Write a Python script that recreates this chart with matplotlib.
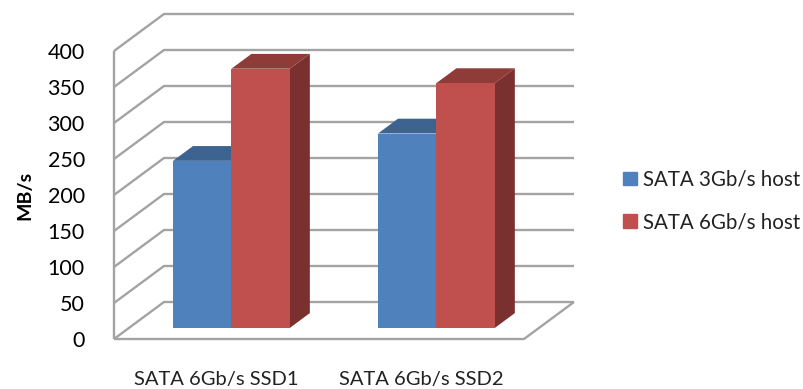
import matplotlib
matplotlib.use("Agg")
import matplotlib.pyplot as plt
from matplotlib.patches import Polygon, Patch

categories = ["SATA 6Gb/s SSD1", "SATA 6Gb/s SSD2"]
series_names = ["SATA 3Gb/s host", "SATA 6Gb/s host"]
host_3g = [232, 270]
host_6g = [360, 340]
y_ticks = [0, 50, 100, 150, 200, 250, 300, 350, 400]

front_colors = ["#4F81BD", "#C0504D"]
top_colors = ["#3D6390", "#8F3B38"]
side_colors = ["#3B5F8A", "#7A302E"]
grid_color = "#A3A3A3"

W, H = 804, 389
# plot box in pixels: front edge of the floor and the left wall
LEFT, RIGHT, BOTTOM, TOP = 114, 524, 339, 51

# depth of the fake 3d box, in data units
DEPTH_X = 50 / 205
DEPTH_Y = 37 / 0.72
BAR_W = 0.285
BAR_DEPTH = (0.3, 0.7)  # bars stand between these fractions of the depth

plt.rcParams["font.family"] = ["Lato", "DejaVu Sans"]

fig = plt.figure(figsize=(W / 100, H / 100), dpi=100)
ax = fig.add_axes([LEFT / W, 1 - BOTTOM / H, (RIGHT - LEFT) / W, (BOTTOM - TOP) / H])
ax.set_xlim(0, 2)
ax.set_ylim(0, 400)
for s in ax.spines.values():
    s.set_visible(False)
ax.patch.set_visible(False)


def pt(x, v, d):
    return (x + d * DEPTH_X, v + d * DEPTH_Y)


def line(points, z=1):
    xs, ys = zip(*points)
    ax.plot(xs, ys, color=grid_color, lw=1.7, clip_on=False, zorder=z, solid_capstyle="butt")


# walls and floor
for v in y_ticks:
    line([pt(0, v, 0), pt(0, v, 1), pt(2, v, 1)])
line([pt(0, 0, 0), pt(0, 400, 0)])
line([pt(0, 0, 0), pt(2, 0, 0), pt(2, 0, 1)])


def bar(x, value, k, z):
    d0, d1 = BAR_DEPTH
    front = [pt(x, 0, d0), pt(x + BAR_W, 0, d0), pt(x + BAR_W, value, d0), pt(x, value, d0)]
    top = [pt(x, value, d0), pt(x + BAR_W, value, d0), pt(x + BAR_W, value, d1), pt(x, value, d1)]
    side = [pt(x + BAR_W, 0, d0), pt(x + BAR_W, 0, d1), pt(x + BAR_W, value, d1), pt(x + BAR_W, value, d0)]
    ax.add_patch(Polygon(side, color=side_colors[k], lw=0, clip_on=False, zorder=z))
    ax.add_patch(Polygon(top, color=top_colors[k], lw=0, clip_on=False, zorder=z))
    ax.add_patch(Polygon(front, color=front_colors[k], lw=0, clip_on=False, zorder=z + 0.1))


for i in range(len(categories)):
    start = i + 0.2146
    # the 3Gb/s bar goes first so the 6Gb/s bar hides its right side
    bar(start, host_3g[i], 0, 3)
    bar(start + BAR_W, host_6g[i], 1, 4)

ax.set_xticks([i + 0.5 for i in range(len(categories))])
ax.set_xticklabels(categories, fontsize=14.5, color="#222222")
ax.set_yticks(y_ticks)
ax.tick_params(axis="x", length=0, pad=23)
ax.tick_params(axis="y", length=0, pad=21, labelsize=15.5)
ax.set_ylabel("MB/s", fontsize=14, fontweight="bold", labelpad=10)

handles = [Patch(color=front_colors[k], label=series_names[k]) for k in range(2)]
fig.legend(handles=handles, loc="center left", bbox_to_anchor=(623 / W, 1 - 201 / H),
           frameon=False, fontsize=14.8, handlelength=0.66, handleheight=0.66,
           handletextpad=0.3, labelspacing=1.1, borderpad=0, borderaxespad=0,
           labelcolor="#222222")

fig.savefig("out.png", dpi=100)
